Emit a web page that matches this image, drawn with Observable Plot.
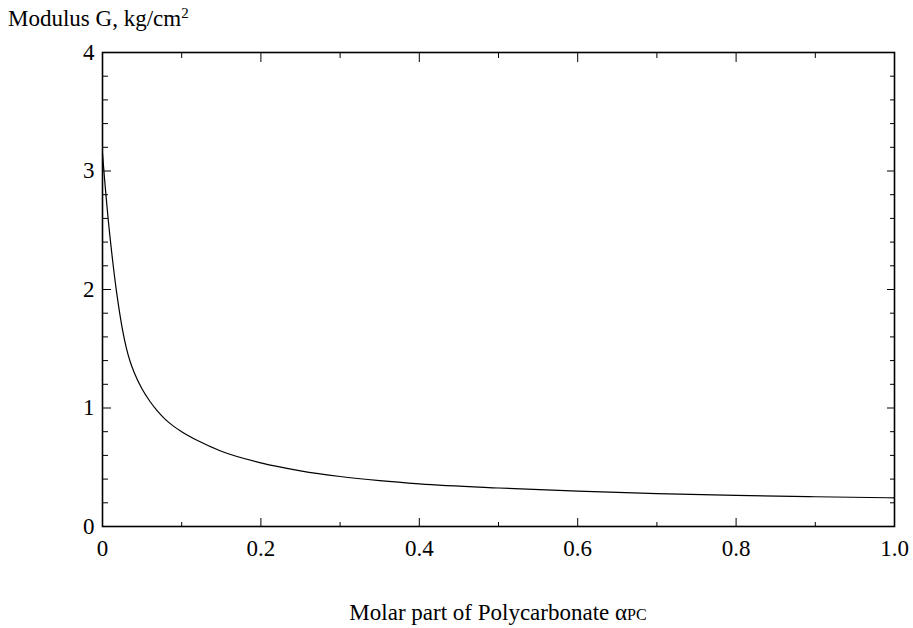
<!DOCTYPE html>
<html>
<head>
<meta charset="utf-8">
<script src="https://cdn.jsdelivr.net/npm/d3@7"></script>
<script src="https://cdn.jsdelivr.net/npm/@observablehq/plot@0.6"></script>
<style>
  html, body { margin: 0; padding: 0; background: white; }
  #wrap { position: relative; width: 913px; height: 628px; font-family: "Liberation Serif", "Times New Roman", serif; color: black; }
  #title { position: absolute; left: 8px; top: 7px; font-size: 23px; line-height: 1; white-space: nowrap; }
  #title sup { font-size: 15px; vertical-align: 8px; line-height: 0; }
  #xlabel { position: absolute; left: 102px; width: 792px; top: 601px; text-align: center; font-size: 23px; line-height: 1; white-space: nowrap; }
  #xlabel .sub { font-size: 16px; }
</style>
</head>
<body>
<div id="wrap">
  <div id="chart"></div>
  <div id="title">Modulus G, kg/cm<sup>2</sup></div>
  <div id="xlabel">Molar part of Polycarbonate α<span class="sub">PC</span></div>
</div>
<script>
// Molar part of polycarbonate (x) and shear modulus G, kg/cm²
const molarPart = [0, 0.0025, 0.005, 0.0075, 0.01, 0.0125, 0.015, 0.0175, 0.02, 0.025, 0.03, 0.035, 0.04, 0.05, 0.06, 0.07, 0.08, 0.09, 0.1, 0.12, 0.15, 0.2, 0.25, 0.3, 0.35, 0.4, 0.5, 0.6, 0.7, 0.8, 0.9, 1.0];
const modulusG  = [3.15, 2.94, 2.75, 2.57, 2.41, 2.26, 2.12, 1.99, 1.875, 1.67, 1.51, 1.39, 1.30, 1.16, 1.055, 0.97, 0.90, 0.845, 0.80, 0.725, 0.635, 0.537, 0.47, 0.422, 0.387, 0.36, 0.325, 0.298, 0.278, 0.262, 0.251, 0.242];

const xMajorTicks = [0, 0.2, 0.4, 0.6, 0.8, 1.0];
const xTickLabels = ["0", "0.2", "0.4", "0.6", "0.8", "1.0"];
const xMinorTicks = [0.1, 0.3, 0.5, 0.7, 0.9];
const yMajorTicks = [0, 1, 2, 3, 4];
const yTickLabels = ["0", "1", "2", "3", "4"];
const yMinorTicks = [0.2, 0.4, 0.6, 0.8, 1.2, 1.4, 1.6, 1.8, 2.2, 2.4, 2.6, 2.8, 3.2, 3.4, 3.6, 3.8];

const data = molarPart.map((x, i) => ({x, g: modulusG[i]}));

const chart = Plot.plot({
  width: 913,
  height: 628,
  marginLeft: 102,
  marginRight: 19,
  marginTop: 52,
  marginBottom: 102,
  style: {fontFamily: '"Liberation Serif", "Times New Roman", serif', fontSize: "23px", color: "black", background: "white", overflow: "visible"},
  x: {domain: [0, 1]},
  y: {domain: [0, 4]},
  marks: [
    Plot.axisX(xMinorTicks, {anchor: "bottom", tickSize: -4, text: null, label: null}),
    Plot.axisX(xMajorTicks, {anchor: "bottom", tickSize: -8, text: null, label: null}),
    Plot.axisX(xMinorTicks, {anchor: "top", tickSize: -5, text: null, label: null}),
    Plot.axisX(xMajorTicks, {anchor: "top", tickSize: -9, text: null, label: null}),
    Plot.axisX(xMajorTicks, {anchor: "bottom", tickSize: 0, tickPadding: 13, label: null, tickFormat: d => xTickLabels[xMajorTicks.indexOf(d)]}),
    Plot.axisY(yMinorTicks, {anchor: "left", tickSize: -6, text: null, label: null}),
    Plot.axisY(yMajorTicks, {anchor: "left", tickSize: -9, text: null, label: null}),
    Plot.axisY(yMinorTicks, {anchor: "right", tickSize: -5, text: null, label: null}),
    Plot.axisY(yMajorTicks, {anchor: "right", tickSize: -8, text: null, label: null}),
    Plot.axisY(yMajorTicks, {anchor: "left", tickSize: 0, tickPadding: 8, label: null, tickFormat: d => yTickLabels[yMajorTicks.indexOf(d)]}),
    Plot.line(data, {x: "x", y: "g", curve: "monotone-x", stroke: "black", strokeWidth: 1.2}),
    Plot.frame({stroke: "black", strokeWidth: 1.6})
  ]
});
document.getElementById("chart").appendChild(chart);
</script>
</body>
</html>
